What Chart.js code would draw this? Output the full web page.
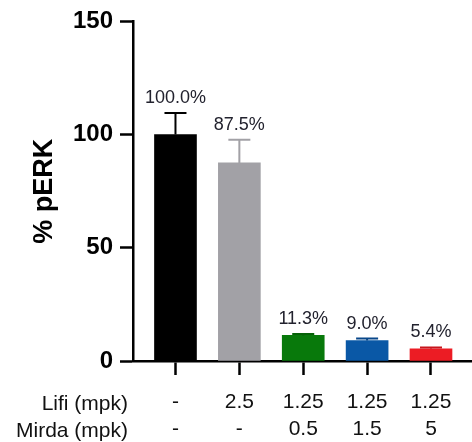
<!DOCTYPE html>
<html>
<head>
<meta charset="utf-8">
<script src="https://cdn.jsdelivr.net/npm/chart.js@4"></script>
<style>
  body { margin: 0; background: #fff; }
</style>
</head>
<body>
<canvas id="chart" width="472" height="442"></canvas>
<script>
// data
var lifi = ['-', '2.5', '1.25', '1.25', '1.25'];
var mirda = ['-', '-', '0.5', '1.5', '5'];
var perk = [100.0, 87.5, 11.3, 9.0, 5.4];
var perkErr = [9.5, 10.2, 0.6, 0.9, 0.6];
var rowTitles = ['Lifi (mpk)', 'Mirda (mpk)'];
var yTicks = [0, 50, 100, 150];

var barColors = ['#000000', '#a2a1a6', '#08790b', '#0a58a6', '#ec1c24'];
var errColors = ['#000000', '#a2a1a6', '#066208', '#08478a', '#c8151c'];

Chart.defaults.font.family = "'Liberation Sans', Arial, sans-serif";
Chart.defaults.color = '#111';

// error bars + value labels above each bar
var errorBars = {
    id: 'errorBars',
    afterDatasetsDraw: function (chart) {
        var ctx = chart.ctx;
        var y = chart.scales.y;
        var meta = chart.getDatasetMeta(0);
        ctx.save();
        meta.data.forEach(function (bar, i) {
            var top = y.getPixelForValue(perk[i]);
            var cap = y.getPixelForValue(perk[i] + perkErr[i]);
            ctx.strokeStyle = errColors[i];
            ctx.lineWidth = 2;
            ctx.beginPath();
            ctx.moveTo(bar.x, top);
            ctx.lineTo(bar.x, cap);
            ctx.moveTo(bar.x - 11, cap);
            ctx.lineTo(bar.x + 11, cap);
            ctx.stroke();

            ctx.fillStyle = '#22222e';
            ctx.font = "18px 'Liberation Sans', Arial, sans-serif";
            ctx.textAlign = 'center';
            ctx.textBaseline = 'middle';
            ctx.fillText(perk[i].toFixed(1) + '%', bar.x, cap - 15);
        });
        // row titles to the left of the dose labels
        ctx.fillStyle = '#111';
        ctx.font = "21px 'Liberation Sans', Arial, sans-serif";
        ctx.textAlign = 'right';
        ctx.fillText(rowTitles[0], 128, 404);
        ctx.fillText(rowTitles[1], 128, 431);
        ctx.restore();
    }
};

new Chart(document.getElementById('chart'), {
    type: 'bar',
    data: {
        datasets: [{
            data: perk.map(function (v, i) { return { x: i, y: v }; }),
            backgroundColor: barColors,
            barThickness: 42
        }]
    },
    options: {
        responsive: false,
        animation: false,
        layout: { padding: { top: 20, right: 0, left: 0, bottom: 0 } },
        plugins: {
            legend: { display: false },
            tooltip: { enabled: false }
        },
        scales: {
            x: {
                type: 'linear',
                offset: false,
                min: -0.665,
                max: 4.642,
                afterBuildTicks: function (scale) {
                    scale.ticks = lifi.map(function (_, i) { return { value: i }; });
                },
                afterFit: function (scale) { scale.height = 81; },
                ticks: {
                    callback: function (v) { return [lifi[v], mirda[v]]; },
                    font: { size: 21, lineHeight: '27px' },
                    color: '#111',
                    padding: 14,
                    maxRotation: 0,
                    autoSkip: false
                },
                grid: {
                    offset: false,
                    drawOnChartArea: false,
                    tickLength: 14,
                    tickWidth: 2.5,
                    tickColor: '#000'
                },
                border: { display: true, color: '#000', width: 2.5 }
            },
            y: {
                min: 0,
                max: 150,
                afterBuildTicks: function (scale) {
                    scale.ticks = yTicks.map(function (v) { return { value: v }; });
                },
                afterFit: function (scale) { scale.width = 133; },
                ticks: {
                    font: { size: 24, weight: 'bold' },
                    color: '#000',
                    padding: 7
                },
                grid: {
                    drawOnChartArea: false,
                    tickLength: 13,
                    tickWidth: 2.5,
                    tickColor: '#000'
                },
                border: { display: true, color: '#000', width: 2.5 },
                title: {
                    display: true,
                    text: '% pERK',
                    font: { size: 27, weight: 'bold' },
                    color: '#000',
                    padding: { top: 28, bottom: 0 }
                }
            }
        }
    },
    plugins: [errorBars]
});
</script>
</body>
</html>
